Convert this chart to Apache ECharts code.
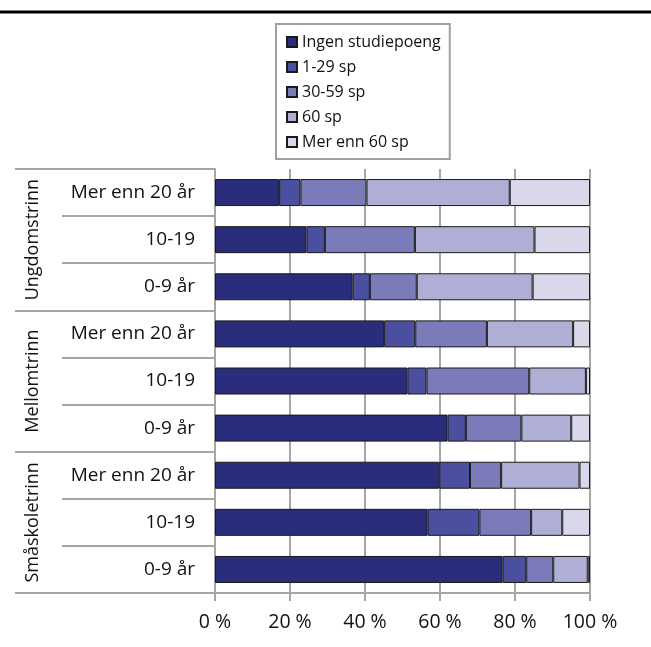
<!DOCTYPE html>
<html>
<head>
<meta charset="utf-8">
<script src="https://cdn.jsdelivr.net/npm/echarts@6/dist/echarts.min.js"></script>
<style>
html,body{margin:0;padding:0;background:#fff;}
#c{width:651px;height:647px;}
</style>
</head>
<body>
<div id="c"></div>
<script>
const categories = ['Mer enn 20 år','10-19','0-9 år','Mer enn 20 år','10-19','0-9 år','Mer enn 20 år','10-19','0-9 år'];
const groups = ['Ungdomstrinn','Mellomtrinn','Småskoletrinn'];
const seriesNames = ['Ingen studiepoeng','1-29 sp','30-59 sp','60 sp','Mer enn 60 sp'];
const ingen   = [17.1, 24.4, 36.7, 45.1, 51.3, 62.0, 59.8, 56.7, 76.7];
const sp1_29  = [5.7, 4.9, 4.6, 8.3, 5.1, 4.9, 8.2, 13.8, 6.3];
const sp30_59 = [17.6, 24.0, 12.5, 19.1, 27.4, 14.8, 8.3, 13.8, 7.2];
const sp60    = [38.2, 31.9, 30.9, 23.0, 15.1, 13.3, 20.9, 8.3, 9.2];
const mer60   = [21.4, 14.8, 15.3, 4.5, 1.1, 5.0, 2.8, 7.4, 0.6];
const xTicks = [0, 20, 40, 60, 80, 100];
const colors = ['#292d7c','#4b4f9f','#7b7bb9','#afafd6','#d9d8eb'];

const values = [ingen, sp1_29, sp30_59, sp60, mer60];
const FONT = '"Open Sans", "Noto Sans", sans-serif';
const gridColor = '#a6a6a6';

const chart = echarts.init(document.getElementById('c'), null, {renderer:'canvas'});
chart.setOption({
  animation: false,
  textStyle: {fontFamily: FONT},
  graphic: [{
    type: 'line',
    shape: {x1: 0, y1: 12, x2: 651, y2: 12},
    style: {stroke: '#000', lineWidth: 3}
  }],
  legend: {
    orient: 'vertical',
    left: 276, top: 24,
    data: seriesNames,
    itemWidth: 10, itemHeight: 10,
    itemGap: 9,
    padding: [10, 9, 9, 10],
    borderColor: '#a0a0a0', borderWidth: 2,
    icon: 'rect',
    textStyle: {fontSize: 16, color: '#111', fontFamily: FONT}
  },
  grid: {left: 215, right: 61, top: 169, bottom: 54, containLabel: false},
  xAxis: {
    type: 'value', min: 0, max: 100, interval: 20,
    axisLine: {show: true, lineStyle: {color: gridColor, width: 2}},
    axisTick: {show: true, length: 8, lineStyle: {color: gridColor, width: 2}},
    splitLine: {show: true, lineStyle: {color: gridColor, width: 2}},
    axisLabel: {formatter: v => xTicks.includes(v) ? v + ' %' : '', fontSize: 19.5, color: '#111', margin: 19, fontFamily: FONT}
  },
  yAxis: [{
    type: 'category', inverse: true, data: categories,
    axisLine: {show: true, lineStyle: {color: gridColor, width: 2}},
    axisTick: {show: true, interval: 0, length: 153, lineStyle: {color: gridColor, width: 2}},
    axisLabel: {interval: 0, fontSize: 19, color: '#111', margin: 20, fontFamily: FONT}
  }, {
    type: 'category', inverse: true, data: groups, position: 'left',
    axisLine: {show: false},
    axisTick: {show: true, interval: 0, length: 200, lineStyle: {color: gridColor, width: 2}},
    axisLabel: {interval: 0, fontSize: 18, color: '#111', rotate: 90, margin: 173, fontFamily: FONT}
  }],
  series: seriesNames.map((name, i) => ({
    name, type: 'bar', stack: 'total', yAxisIndex: 0,
    data: values[i],
    barWidth: 27,
    itemStyle: {color: colors[i], borderColor: '#1a1a1a', borderWidth: 1}
  }))
});
</script>
</body>
</html>
